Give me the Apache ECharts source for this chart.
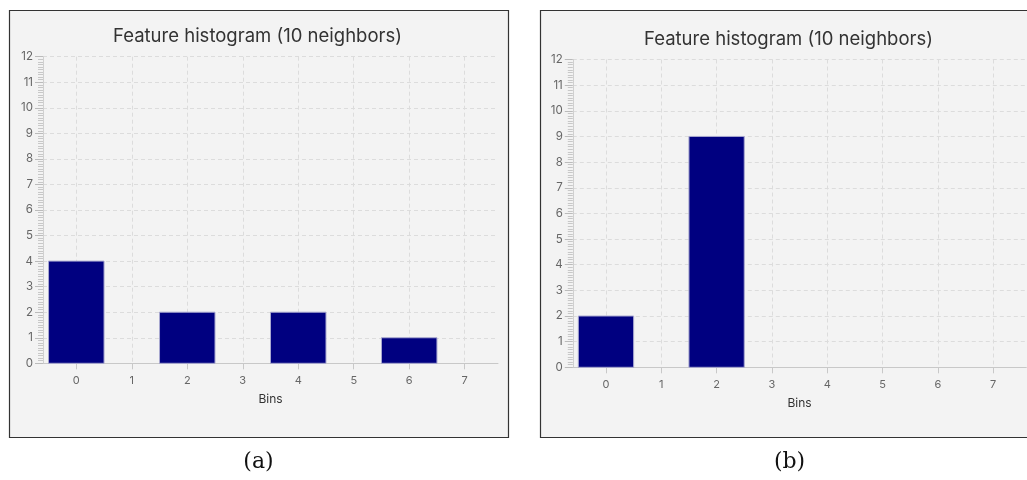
<!DOCTYPE html>
<html>
<head>
<meta charset="utf-8">
<script src="https://cdn.jsdelivr.net/npm/echarts@6/dist/echarts.min.js"></script>
<style>
  html, body { margin: 0; padding: 0; background: #ffffff; }
  #chart { width: 1027px; height: 480px; }
</style>
</head>
<body>
<div id="chart"></div>
<script>
// Histogram bins and counts for the two panels
const bins = [0, 1, 2, 3, 4, 5, 6, 7];
const countsA = [4, 0, 2, 0, 2, 0, 1, 0];
const countsB = [2, 0, 9, 0, 0, 0, 0, 0];
const yTicks = [0, 1, 2, 3, 4, 5, 6, 7, 8, 9, 10, 11, 12];
const titleText = 'Feature histogram (10 neighbors)';
const xName = 'Bins';
const captions = ['(a)', '(b)'];

const chart = echarts.init(document.getElementById('chart'), null, { renderer: 'canvas' });

const uiFont = 'Inter, "Open Sans", Roboto, sans-serif';
const panels = [
  { x: 9, y: 10, w: 499, h: 427, grid: { left: 43, top: 56.7, width: 455, height: 306.6 }, titleY: 22 },
  { x: 540, y: 10, w: 499, h: 427, grid: { left: 572.8, top: 59.5, width: 453.5, height: 307.8 }, titleY: 25 }
];

function xAxisFor(i) {
  return {
    gridIndex: i, type: 'value', min: -0.6, max: 7.6,
    name: xName, nameLocation: 'middle', nameGap: 30,
    nameTextStyle: { color: '#333', fontSize: 12, fontFamily: uiFont },
    axisLine: { show: true, onZero: false, lineStyle: { color: '#c8c8c8', width: 1 } },
    axisTick: { show: true, length: 6, customValues: bins, lineStyle: { color: '#c8c8c8' } },
    axisLabel: { customValues: bins, color: '#666', fontSize: 11, fontFamily: uiFont, margin: 12 },
    splitLine: { show: true, lineStyle: { color: '#dcdcdc', type: [4, 3], width: 1 } }
  };
}
function yAxisFor(i) {
  return {
    gridIndex: i, type: 'value', min: 0, max: 12, interval: 1,
    axisLine: { show: true, onZero: false, lineStyle: { color: '#d0d0d0', width: 1 } },
    axisTick: { show: true, length: 8, lineStyle: { color: '#bbbbbb' } },
    minorTick: { show: true, splitNumber: 10, length: 5, lineStyle: { color: '#c8c8c8' } },
    axisLabel: { color: '#666', fontSize: 11.5, fontFamily: uiFont, margin: 10,
      formatter: v => (yTicks.indexOf(v) >= 0 ? String(v) : '') },
    splitLine: { show: true, lineStyle: { color: '#dcdcdc', type: [4, 3], width: 1 } }
  };
}

// Each bar spans one bin width, centred on its bin value
function histSeries(i, counts) {
  return {
    type: 'custom', xAxisIndex: i, yAxisIndex: i,
    data: bins.map((b, k) => [b, counts[k]]),
    renderItem: function (params, api) {
      const b = api.value(0), v = api.value(1);
      if (!v) return null;
      const p0 = api.coord([b - 0.5, v]);
      const p1 = api.coord([b + 0.5, 0]);
      return {
        type: 'rect',
        shape: { x: p0[0], y: p0[1], width: p1[0] - p0[0], height: p1[1] - p0[1] },
        style: { fill: '#000080', stroke: '#a8a8d0', lineWidth: 1 }
      };
    }
  };
}

const option = {
  animation: false,
  backgroundColor: '#ffffff',
  graphic: [
    ...panels.map(p => ({
      type: 'rect', z: -10, silent: true,
      shape: { x: p.x + 0.5, y: p.y + 0.5, width: p.w, height: p.h },
      style: { fill: '#f3f3f3', stroke: '#333333', lineWidth: 1.2 }
    })),
    ...captions.map((c, i) => ({
      type: 'text', silent: true,
      x: panels[i].x + panels[i].w / 2, y: 462,
      style: { text: c, fill: '#111', font: '22px "DejaVu Serif", "Liberation Serif", serif',
        align: 'center', verticalAlign: 'middle' }
    }))
  ],
  title: panels.map((p, i) => ({
    text: titleText,
    left: p.x + p.w / 2 - 6, top: p.titleY, textAlign: 'center',
    textStyle: { color: '#333', fontSize: 18.5, fontWeight: 'normal', fontFamily: uiFont }
  })),
  grid: panels.map(p => Object.assign({ containLabel: false }, p.grid)),
  xAxis: [xAxisFor(0), xAxisFor(1)],
  yAxis: [yAxisFor(0), yAxisFor(1)],
  series: [histSeries(0, countsA), histSeries(1, countsB)]
};

chart.setOption(option);
</script>
</body>
</html>
